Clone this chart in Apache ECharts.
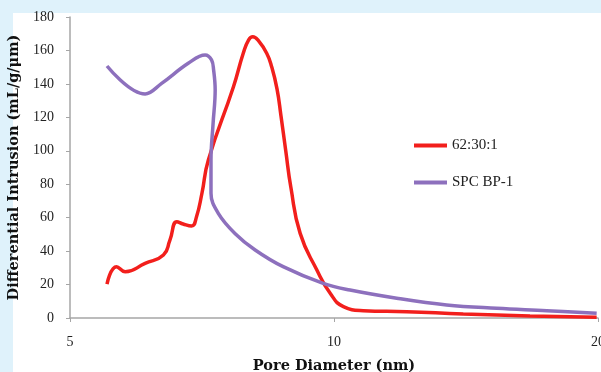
<!DOCTYPE html>
<html>
<head>
<meta charset="utf-8">
<script src="https://cdn.jsdelivr.net/npm/echarts@6/dist/echarts.min.js"></script>
<style>
html,body{margin:0;padding:0;background:#dff2fb;}
#chart{width:601px;height:372px;}
</style>
</head>
<body>
<div id="chart"></div>
<script>
// Pore diameter (nm) and differential intrusion (mL/g/μm)
const seriesNames = ['62:30:1', 'SPC BP-1'];
const redX = [5.51, 5.65, 5.78, 6.09, 6.39, 6.50, 6.62, 6.73, 6.88, 6.97, 7.07, 7.19, 7.68, 7.88, 7.99, 8.08, 8.20, 8.38, 8.49, 8.61, 8.70, 8.81, 8.93, 9.15, 9.56, 9.90, 10.25, 10.80, 12.10, 14.04, 16.73, 19.93];
const redY = [20.3, 30.7, 27.7, 32.7, 37.7, 46.6, 57.6, 56.2, 55.0, 60.6, 74.6, 94.5, 138.3, 158.3, 166.2, 168.2, 165.8, 158.3, 150.3, 137.0, 121.0, 100.0, 78.0, 50.6, 28.7, 14.8, 6.8, 4.4, 3.8, 2.4, 1.2, 0.4];
const purpleX = [5.51, 6.09, 6.36, 6.82, 7.13, 7.25, 7.29, 7.32, 7.28, 7.24, 7.24, 7.38, 7.71, 8.13, 8.75, 9.72, 10.43, 11.79, 13.44, 15.33, 17.48, 19.93];
const purpleY = [150.7, 134.0, 140.3, 152.3, 157.3, 154.3, 148.3, 136.3, 116.4, 94.5, 74.6, 62.6, 50.6, 40.7, 30.7, 20.7, 16.7, 11.8, 7.8, 5.8, 4.4, 2.8];
const xTicks = [5, 10, 20];
const yTicks = [0, 20, 40, 60, 80, 100, 120, 140, 160, 180];

const redData = redX.map((x, i) => [x, redY[i]]);
const purpleData = purpleX.map((x, i) => [x, purpleY[i]]);

const chart = echarts.init(document.getElementById('chart'), null, {renderer: 'canvas'});
const font = 'Liberation Serif';
const titleFont = 'DejaVu Serif';
chart.setOption({
  backgroundColor: '#dff2fb',
  animation: false,
  graphic: [{
    type: 'rect', z: -100, silent: true,
    shape: {x: 13, y: 13, width: 600, height: 372},
    style: {fill: '#ffffff'}
  }],
  grid: {left: 70, right: 3, top: 17, bottom: 54, containLabel: false, outerBoundsMode: 'none'},
  legend: {
    orient: 'vertical', left: 414, top: 138, itemGap: 22, padding: 0,
    itemWidth: 33, itemHeight: 4, icon: 'rect',
    textStyle: {fontFamily: font, fontSize: 15, color: '#222'},
    data: seriesNames
  },
  xAxis: {
    type: 'log', logBase: 10,
    min: xTicks[0], max: xTicks[xTicks.length - 1], interval: 0.30103,
    name: 'Pore Diameter (nm)', nameLocation: 'middle', nameGap: 41,
    nameTextStyle: {fontFamily: titleFont, fontSize: 14.5, fontWeight: 'bold', color: '#111'},
    axisLine: {lineStyle: {color: '#a6a6a6', width: 1.5}},
    axisTick: {show: true, inside: false, length: 4, lineStyle: {color: '#a6a6a6'}},
    axisLabel: {fontFamily: font, fontSize: 14, color: '#222', margin: 17,
      formatter: v => String(Math.round(v))},
    splitLine: {show: false}, minorTick: {show: false}
  },
  yAxis: {
    type: 'value', min: yTicks[0], max: yTicks[yTicks.length - 1], interval: 20,
    name: 'Differential Intrusion (mL/g/μm)', nameLocation: 'middle', nameGap: 36,
    nameTextStyle: {fontFamily: titleFont, fontSize: 14.5, fontWeight: 'bold', color: '#111'},
    axisLine: {show: true, lineStyle: {color: '#a6a6a6', width: 1.5}},
    axisTick: {show: true, inside: false, length: 4, lineStyle: {color: '#a6a6a6'}},
    axisLabel: {fontFamily: font, fontSize: 14, color: '#222', margin: 16},
    splitLine: {show: false}
  },
  series: [
    {name: seriesNames[0], type: 'line', data: redData, showSymbol: false, smooth: 0.5,
     color: '#f21f1c', lineStyle: {width: 3.5, color: '#f21f1c'}},
    {name: seriesNames[1], type: 'line', data: purpleData, showSymbol: false, smooth: 0.4,
     color: '#8d70bd', lineStyle: {width: 3.5, color: '#8d70bd'}}
  ]
});
</script>
</body>
</html>
